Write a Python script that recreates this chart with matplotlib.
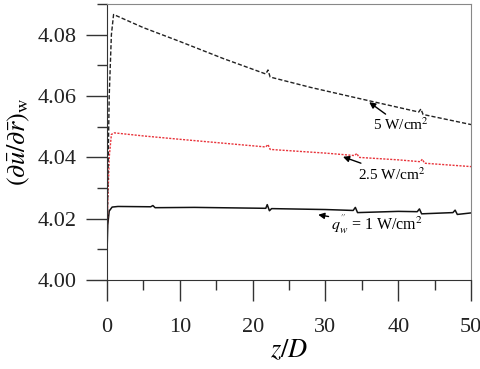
import matplotlib.pyplot as plt
from matplotlib.ticker import MultipleLocator

plt.rcParams['font.family'] = ['Liberation Serif', 'DejaVu Serif']
plt.rcParams['mathtext.fontset'] = 'stix'

# q_w = 1 W/cm2 (solid black)
x_1 = [0, 0.1, 0.3, 0.7, 1.5, 6, 6.3, 6.6, 12, 21.8, 22.0, 22.3, 22.6, 30,
       33.8, 34.1, 34.4, 40, 42.6, 42.9, 43.2, 47.5, 47.8, 48.1, 50]
y_1 = [4.009, 4.018, 4.0225, 4.0238, 4.0240, 4.0239, 4.0243, 4.0236, 4.0237,
       4.0234, 4.0246, 4.0226, 4.0233, 4.0230, 4.0227, 4.0237, 4.0220, 4.0224,
       4.0223, 4.0232, 4.0216, 4.0220, 4.0228, 4.0214, 4.0219]

# 2.5 W/cm2 (red dotted)
x_25 = [0, 0.1, 0.3, 0.6, 1.0, 5, 10, 21.8, 22.1, 22.4, 30, 34.0, 34.3,
        34.6, 40, 43.0, 43.3, 43.6, 50]
y_25 = [4.010, 4.025, 4.040, 4.0475, 4.0480, 4.0470, 4.0459, 4.0434, 4.0442,
        4.0426, 4.0414, 4.0406, 4.0413, 4.0400, 4.0392, 4.0386, 4.0394,
        4.0381, 4.0370]

# 5 W/cm2 (black dashed)
x_5 = [0, 0.1, 0.3, 0.6, 0.9, 5, 10, 16, 21.8, 22.1, 22.4, 28, 35, 42.8,
       43.1, 43.4, 50]
y_5 = [4.008, 4.030, 4.060, 4.080, 4.0866, 4.0823, 4.0778, 4.0722, 4.0672,
       4.0685, 4.0662, 4.0628, 4.0590, 4.0548, 4.0558, 4.0540, 4.0507]

fig = plt.figure(figsize=(4.81, 3.69), dpi=100)
ax = fig.add_axes([0.2225, 0.241, 0.757, 0.748])

ax.plot(x_1, y_1, color='#111111', lw=1.1)
ax.plot(x_25, y_25, color='#e8333a', lw=1.0, linestyle=(0, (1.5, 1)))
ax.plot(x_5, y_5, color='#222222', lw=1.0, linestyle=(0, (3, 1.5)))

ax.set_xlim(0, 50)
ax.set_ylim(4.00, 4.09)
ax.xaxis.set_major_locator(MultipleLocator(10))
ax.xaxis.set_minor_locator(MultipleLocator(5))
ax.yaxis.set_major_locator(MultipleLocator(0.02))
ax.yaxis.set_minor_locator(MultipleLocator(0.01))
ax.yaxis.set_major_formatter(plt.FormatStrFormatter('%.2f'))

ax.tick_params(which='major', direction='out', length=15, width=1, labelsize=16)
ax.tick_params(which='minor', direction='out', length=7.5, width=1)
ax.tick_params(axis='x', which='major', pad=12)
ax.tick_params(axis='y', which='major', pad=7)
ax.tick_params(top=False, right=False, which='both', colors='#333333', labelcolor='#222222')

for side in ['top', 'right']:
    ax.spines[side].set_color('#888888')
for side in ['left', 'bottom']:
    ax.spines[side].set_color('#333333')

ax.set_xlabel(r'$z/D$', fontsize=19, labelpad=1)
ax.set_ylabel(r'$(\partial\bar{u}/\partial\bar{r})_{\rm w}$', fontsize=19, labelpad=4)

arrow = dict(arrowstyle='-|>', color='black', lw=1.0, mutation_scale=9,
             shrinkA=0, shrinkB=0)
ax.annotate('5 W/cm$^2$', xy=(36.0, 4.0580), xytext=(36.5, 4.0505),
            fontsize=11, ha='left', va='center', arrowprops=arrow)
ax.annotate('2.5 W/cm$^2$', xy=(32.4, 4.0402), xytext=(34.5, 4.0345),
            fontsize=11, ha='left', va='center', arrowprops=arrow)
ax.annotate(r"$q_w^{''}$ = 1 W/cm$^2$", xy=(29.0, 4.0213), xytext=(30.8, 4.0180),
            fontsize=11.5, ha='left', va='center', arrowprops=arrow)

fig.savefig('out.png', dpi=100)
